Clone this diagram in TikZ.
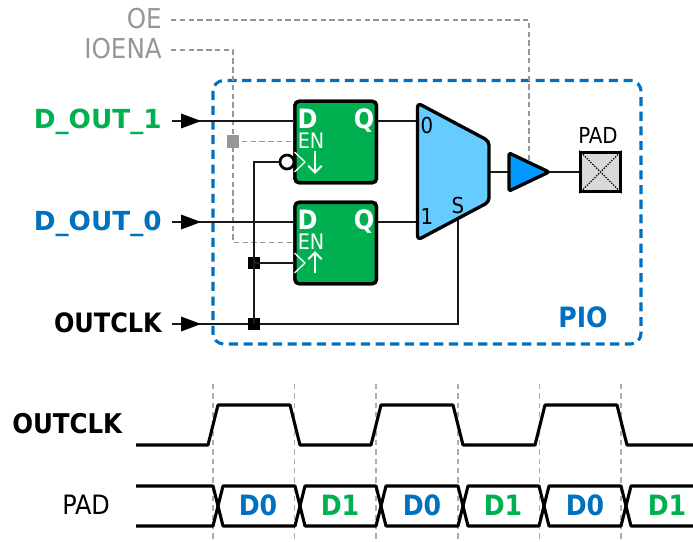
\documentclass[tikz,border=0pt]{standalone}
\usepackage{fontspec}
\setmainfont{DejaVu Sans Condensed}
\newfontfamily\widebold[BoldFont={DejaVu Sans Bold}]{DejaVu Sans}
\usetikzlibrary{calc}
\definecolor{pgreen}{HTML}{00B050}
\definecolor{pblue}{HTML}{0070C0}
\definecolor{muxblue}{HTML}{66CCFF}
\definecolor{bufblue}{HTML}{0099FF}
\definecolor{dgray}{HTML}{969696}
\tikzset{
  x=0.75pt,y=-0.75pt,
  wire/.style={line width=1.5pt,draw=black!90},
  ctl/.style={line width=1.2pt,draw=dgray,dash pattern=on 4pt off 2.6pt},
  guide/.style={line width=1.1pt,draw=black!32,dash pattern=on 4pt off 3pt},
  wave/.style={line width=2.3pt,line join=round},
  ffbox/.style={rectangle,draw=black,fill=pgreen,line width=2.5pt,rounded corners=3pt,minimum width=61pt,minimum height=61pt,inner sep=0pt},
  ffw/.style={white,inner sep=0pt,anchor=base,font=\fontsize{16}{16}\selectfont},
  ffb/.style={white,inner sep=0pt,anchor=base,font=\fontsize{20}{20}\selectfont\bfseries},
  ins/.style={fill=black,line width=0pt},
  dot/.style={rectangle,fill=black,minimum size=9pt,inner sep=0pt},
  sig/.style={inner sep=0pt,anchor=base east,font=\fontsize{20}{20}\selectfont\bfseries},
  wsig/.style={inner sep=0pt,anchor=base east,font=\widebold\fontsize{19.7}{20}\selectfont\bfseries},
  gsig/.style={inner sep=0pt,anchor=base east,text=dgray,font=\fontsize{20.5}{20}\selectfont},
  dat/.style={inner sep=0pt,anchor=base,font=\fontsize{21}{21}\selectfont\bfseries},
  small/.style={inner sep=0pt,anchor=base,font=\fontsize{16.5}{16}\selectfont},
  chev/.style={draw=white,line width=1pt,line join=miter},
  ffarrow/.style={draw=white,line width=1.5pt}
}
\begin{document}
\begin{tikzpicture}
\useasboundingbox (0,0) rectangle (693,542);
% labels
\node[gsig] (oe) at (162,29) {OE};
\node[gsig] (ioena) at (162,59) {IOENA};
\node[wsig,text=pgreen] (d1) at (162,128) {D\_OUT\_1};
\node[wsig,text=pblue] (d0) at (162,230) {D\_OUT\_0};
\node[sig] (ck) at (162,332) {OUTCLK};
\coordinate (d1s) at (172,121);
\coordinate (d0s) at (172,222);
\coordinate (cks) at (172,324);
\coordinate (oes) at (171,20);
\coordinate (ies) at (171,50);
% PIO frame
\draw[pblue,line width=2.3pt,dash pattern=on 6.8pt off 4.2pt,rounded corners=8pt] (213,80.5) rectangle (641,344);
\node[inner sep=0pt,anchor=base,text=pblue,font=\fontsize{21}{21}\selectfont\bfseries] (pio) at (583,327) {PIO};
% blocks positions
\node[ffbox] (ff1) at (335.7,142) {};
\node[ffbox] (ff2) at (335.7,243) {};
\coordinate (muxnw) at (417.5,103);
\coordinate (muxne) at (489,141);
\coordinate (muxse) at (489,202);
\coordinate (muxsw) at (417.5,240);
\coordinate (muxo) at (489,172);
\coordinate (muxa) at (417.5,121);
\coordinate (muxb) at (417.5,222);
\coordinate (muxs) at (458,219);
\coordinate (bufi) at (509,172);
\coordinate (bufo) at (549,172);
\coordinate (oej) at (529,162);
\node[rectangle,draw=black,fill=black!15,line width=2.4pt,minimum size=29.5pt,inner sep=0pt] (pad) at (600.5,172) {};
\coordinate (ensq) at (233,141.5);
\coordinate (iebend) at (233,50);
\coordinate (iebot) at (233,242.5);
\coordinate (oebend) at (529,20);
% control (gray) wires
\draw[ctl] (oes) -- (oebend) -- (oej);
\draw[ctl] (ies) -- (iebend) -- (iebot) -- (iebot -| ff2.west);
\draw[ctl] (ensq) -- (ensq -| ff1.west);
\node[rectangle,fill=dgray,minimum size=9pt,inner sep=0pt] (ens) at (ensq) {};
% signal wires
\draw[wire] (d1s) -- (d1s -| ff1.west);
\draw[wire] (d0s) -- (d0s -| ff2.west);
\draw[wire] (cks) -| (muxs);
\draw[wire] (d1s -| ff1.east) -- (muxa);
\draw[wire] (d0s -| ff2.east) -- (muxb);
\draw[wire] (muxo) -- (bufi);
\draw[wire] (bufo) -- (pad.west);
\node[circle,draw=black,fill=white,line width=2pt,minimum size=10.5pt,inner sep=0pt] (inv) at (287,162) {};
\node[dot] (j1) at (254,263) {};
\node[dot] (j2) at (254,324) {};
\draw[wire] (inv.west) -| (j2.center);
\draw[wire] (j1.center) -- (j1 -| ff2.west);
% input triangles
\foreach \s in {d1s,d0s,cks}{\fill[ins] ($(\s)+(9,-7.5)$) -- ($(\s)+(29,0)$) -- ($(\s)+(9,7.5)$) -- cycle;}
% redraw FFs on top of wires
\node[ffbox] at (ff1) {};
\node[ffbox] at (ff2) {};
\node[ffb] (ff1d) at (307.5,128) {D};
\node[ffb] (ff1q) at (364,128) {Q};
\node[ffw] (ff1e) at (311,148) {EN};
\node[ffb] (ff2d) at (307.5,229) {D};
\node[ffb] (ff2q) at (364,229) {Q};
\node[ffw] (ff2e) at (311,249) {EN};
\draw[chev] (294.5,152) -- (305,162) -- (294.5,172);
\draw[chev] (294.5,253) -- (305,263) -- (294.5,273);
\draw[ffarrow] (315,151) -- (315,172);
\draw[ffarrow,line cap=round] (308.5,166) -- (315,172.5) -- (321.5,166);
\draw[ffarrow] (315,273) -- (315,253);
\draw[ffarrow,line cap=round] (308.5,259) -- (315,252.5) -- (321.5,259);
% mux
\draw[fill=muxblue,line width=2.5pt,line join=round,rounded corners=3pt] (muxnw) -- (muxne) -- (muxse) -- (muxsw) -- cycle;
\node[small] (m0) at (427,133) {0};
\node[small] (m1) at (427,224) {1};
\node[small] (ms) at (458,213) {S};
% buffer
\draw[fill=bufblue,line width=2.5pt,line join=round,rounded corners=1.5pt] (bufi |- 0,153) -- (bufo) -- (bufi |- 0,191) -- cycle;
% pad
\draw[densely dotted,line width=1pt] (pad.north west) -- (pad.south east) (pad.north east) -- (pad.south west);
\node[small] (padl) at (598,143) {PAD};
% timing
\foreach \x in {213,294.6,376.2,457.8,539.4,621}{\draw[guide] (\x,384) -- (\x,542);}
\node[inner sep=0pt,anchor=base west,font=\fontsize{20.4}{20}\selectfont\bfseries] (ckw) at (12,433) {OUTCLK};
\node[inner sep=0pt,anchor=base west,font=\fontsize{20}{20}\selectfont] (padw) at (62,514) {PAD};
\draw[wave] (136,445) -- (208,445) -- (218,405) -- (290,405) -- (300,445) -- (371,445) -- (381,405) -- (453,405) -- (463,445) -- (535,445) -- (545,405) -- (617,405) -- (627,445) -- (693,445);
\draw[wave] (136,486) -- (213,486) -- (223,526) -- (295,526) -- (305,486) -- (376,486) -- (386,526) -- (458,526) -- (468,486) -- (539,486) -- (549,526) -- (621,526) -- (631,486) -- (693,486);
\draw[wave] (136,526) -- (213,526) -- (223,486) -- (295,486) -- (305,526) -- (376,526) -- (386,486) -- (458,486) -- (468,526) -- (539,526) -- (549,486) -- (621,486) -- (631,526) -- (693,526);
\node[dat,text=pblue] (t1) at (258,515) {D0};
\node[dat,text=pgreen] (t2) at (340,515) {D1};
\node[dat,text=pblue] (t3) at (422,515) {D0};
\node[dat,text=pgreen] (t4) at (503,515) {D1};
\node[dat,text=pblue] (t5) at (585,515) {D0};
\node[dat,text=pgreen] (t6) at (667,515) {D1};
\end{tikzpicture}
\end{document}
